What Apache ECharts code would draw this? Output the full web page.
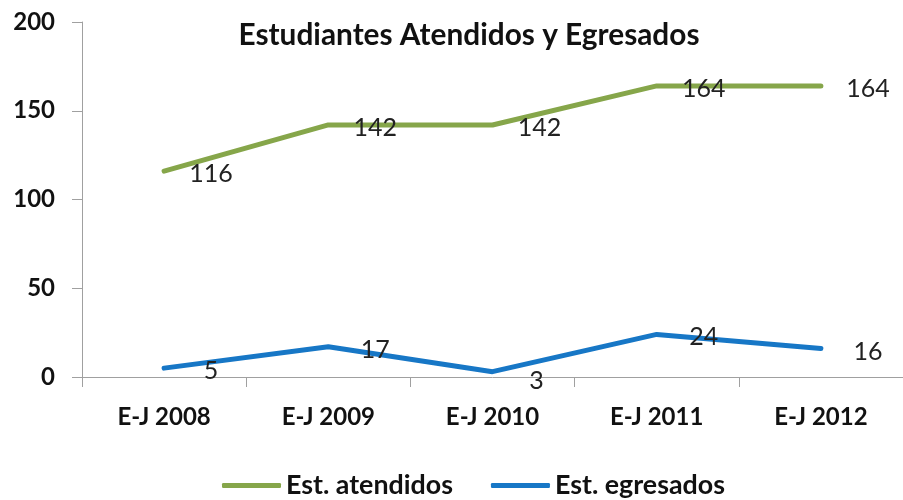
<!DOCTYPE html>
<html><head><meta charset="utf-8">
<script src="https://cdn.jsdelivr.net/npm/echarts@6/dist/echarts.min.js"></script>
<style>html,body{margin:0;padding:0;background:#fff}#c{width:903px;height:500px}</style>
</head><body><div id="c"></div>
<script>
const categories = ["E-J 2008", "E-J 2009", "E-J 2010", "E-J 2011", "E-J 2012"];
const atendidos = [116, 142, 142, 164, 164];
const egresados = [5, 17, 3, 24, 16];
const seriesNames = ["Est. atendidos", "Est. egresados"];
const yTicks = { min: 0, max: 200, interval: 50 };

const FONT = "Lato, 'Open Sans', sans-serif";
const GREEN = '#86a64a', BLUE = '#1777c6';
const chart = echarts.init(document.getElementById('c'), null, { renderer: 'canvas' });
const labelStyle = { show: true, position: 'inside', align: 'center', verticalAlign: 'middle', offset: [47, 3],
  fontFamily: FONT, fontSize: 25, color: '#222' };
chart.setOption({
  animation: false,
  title: { text: 'Estudiantes Atendidos y Egresados', left: 464, top: 15, textAlign: 'center',
    textStyle: { fontFamily: FONT, fontWeight: 'bold', fontSize: 29.8, color: '#111' } },
  legend: { top: 467, left: 217, itemWidth: 59, itemHeight: 5, itemGap: 38,
    icon: 'roundRect', textStyle: { fontFamily: FONT, fontWeight: 'bold', fontSize: 26.8, color: '#111' },
    data: seriesNames },
  grid: { left: 82, top: 22, width: 825, height: 355, containLabel: false },
  xAxis: { type: 'category', data: categories, boundaryGap: true,
    axisLine: { lineStyle: { color: '#a0a0a0', width: 1 } },
    axisTick: { show: true, length: 10, lineStyle: { color: '#a0a0a0' }, alignWithLabel: false },
    axisLabel: { margin: 28, fontFamily: FONT, fontWeight: 'bold', fontSize: 24, color: '#111' } },
  yAxis: { type: 'value', min: yTicks.min, max: yTicks.max, interval: yTicks.interval,
    splitLine: { show: false },
    axisLine: { show: true, lineStyle: { color: '#a0a0a0', width: 1 } },
    axisTick: { show: true, length: 10, lineStyle: { color: '#a0a0a0' } },
    axisLabel: { margin: 27, fontFamily: FONT, fontWeight: 'bold', fontSize: 24, color: '#111' } },
  series: [
    { name: seriesNames[0], type: 'line', data: atendidos, symbol: 'circle', symbolSize: 3, showSymbol: true,
      lineStyle: { width: 5, color: GREEN, cap: 'round' }, itemStyle: { color: GREEN }, label: labelStyle },
    { name: seriesNames[1], type: 'line', symbol: 'circle', symbolSize: 3, showSymbol: true,
      data: egresados.map((v, i) => i === 2 ? { value: v, label: { offset: [44, 9] } } : v),
      lineStyle: { width: 5, color: BLUE, cap: 'round' }, itemStyle: { color: BLUE }, label: labelStyle }
  ]
});
</script></body></html>
